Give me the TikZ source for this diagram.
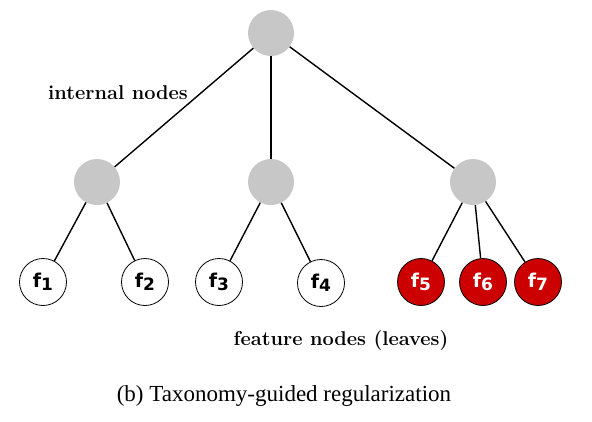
\documentclass[tikz,border=0pt]{standalone}
\usepackage{fontspec}
\setmainfont{Liberation Serif}
\newfontfamily\leaffont{DejaVu Sans}
\newfontfamily\labelfont{Latin Modern Roman}
\usetikzlibrary{calc}

\tikzset{
  inner/.style={circle,fill=black!22,minimum size=46pt,inner sep=0pt},
  leaf/.style={circle,draw=black,line width=0.8pt,fill=white,minimum size=47pt,inner sep=0pt,font=\leaffont\bfseries\fontsize{19}{19}\selectfont},
  leafred/.style={leaf,fill=red!80!black,text=white},
  edge/.style={line width=1.4pt},
  lbl/.style={font=\labelfont\bfseries\fontsize{20}{20}\selectfont}
}
\newcommand{\feat}[1]{f\raisebox{-0.3ex}{\fontsize{17}{17}\selectfont #1}}

\begin{document}
\begin{tikzpicture}[x=1pt,y=-1pt]
    \useasboundingbox (0,0) rectangle (592,421);

    % Internal nodes
    \node[inner] (root) at (271,33) {};
    \node[inner] (a) at (97,182) {};
    \node[inner] (b) at (271,182) {};
    \node[inner] (c) at (473,182) {};

    % Feature nodes (leaves)
    \node[leaf] (f1) at (43,282) {\feat{1}};
    \node[leaf] (f2) at (145,282) {\feat{2}};
    \node[leaf] (f3) at (219,282) {\feat{3}};
    \node[leaf] (f4) at (321,283) {\feat{4}};
    \node[leafred] (f5) at (421,282) {\feat{5}};
    \node[leafred] (f6) at (483,282) {\feat{6}};
    \node[leafred] (f7) at (538,282) {\feat{7}};

    % Edges
    \draw[edge] (root) -- (a);
    \draw[edge] (root) -- (b);
    \draw[edge] (root) -- (c);
    \draw[edge] (a) -- (f1);
    \draw[edge] (a) -- (f2);
    \draw[edge] (b) -- (f3);
    \draw[edge] (b) -- (f4);
    \draw[edge] (c) -- (f5);
    \draw[edge] (c) -- (f6);
    \draw[edge] (c) -- (f7);

    % Labels
    \node[lbl] (lint) at (118,93) {internal nodes};
    \node[lbl] (lfeat) at (341,341) {feature nodes (leaves)};
    \node[font=\fontsize{23}{23}\selectfont] (cap) at (284,396) {(b) Taxonomy-guided regularization};
\end{tikzpicture}
\end{document}
